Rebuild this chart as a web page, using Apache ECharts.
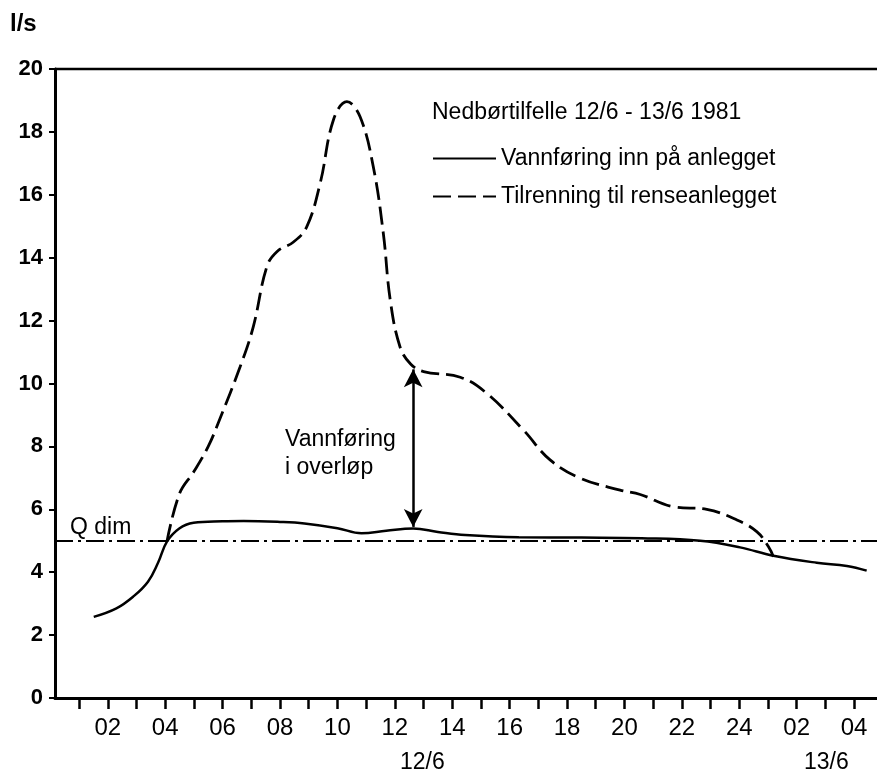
<!DOCTYPE html>
<html>
<head>
<meta charset="utf-8">
<script src="https://cdn.jsdelivr.net/npm/echarts@6/dist/echarts.min.js"></script>
<style>html,body{margin:0;padding:0;background:#fff}#c{width:877px;height:774px}</style>
</head>
<body>
<div id="c"></div>
<script>
// ---- data ----
const tickHours = [1,2,3,4,5,6,7,8,9,10,11,12,13,14,15,16,17,18,19,20,21,22,23,24,25,26,27,28];
const labelHours = [2,4,6,8,10,12,14,16,18,20,22,24,26,28];
const labelTexts = ['02','04','06','08','10','12','14','16','18','20','22','24','02','04'];
const yTicks = [0,2,4,6,8,10,12,14,16,18,20];

const inflowHours  = [1.51, 2.3, 2.88, 3.4, 3.75, 4.06, 4.49, 4.99, 6.0, 6.73, 8.0, 8.85, 10.0, 10.84, 11.7, 12.64, 13.5, 14.45, 16.32, 18.5, 20.6, 22.64, 24.03, 25.19, 26.7, 27.75, 28.44];
const inflowValues = [2.58, 2.85, 3.22, 3.7, 4.3, 4.97, 5.39, 5.57, 5.62, 5.63, 5.6, 5.55, 5.4, 5.24, 5.32, 5.39, 5.28, 5.18, 5.11, 5.1, 5.08, 5.0, 4.79, 4.52, 4.3, 4.2, 4.05];

const runoffHours  = [4.06, 4.5, 5.0, 5.5, 5.91, 6.61, 7.07, 7.54, 7.9, 8.47, 8.93, 9.4, 9.86, 10.33, 10.79, 11.25, 11.6, 11.84, 12.18, 12.55, 13.0, 14.28, 15.2, 16.48, 17.41, 18.46, 19.85, 20.55, 21.71, 22.87, 23.92, 24.61, 25.02, 25.19];
const runoffValues = [4.97, 6.5, 7.2, 8.0, 8.89, 10.53, 11.81, 13.71, 14.2, 14.5, 14.98, 16.37, 18.38, 18.96, 18.48, 16.89, 14.77, 12.66, 11.17, 10.62, 10.38, 10.2, 9.69, 8.52, 7.57, 6.99, 6.61, 6.47, 6.08, 6.0, 5.66, 5.29, 4.81, 4.49];

const qDim = 5;
const overflowArrow = {hour: 12.64, low: 5.44, high: 10.45};

const titleText = 'Nedbørtilfelle 12/6 - 13/6 1981';
const seriesNames = ['Vannføring inn på anlegget', 'Tilrenning til renseanlegget'];

// ---- chart ----
const FONT = 'Liberation Sans';
const chart = echarts.init(document.getElementById('c'), null, {renderer: 'canvas'});
const zip = (a, b) => a.map((v, i) => [v, b[i]]);

chart.setOption({
  animation: false,
  backgroundColor: '#fff',
  textStyle: {fontFamily: FONT, color: '#000'},
  grid: {left: 55, right: 0, top: 69, bottom: 76, containLabel: false},
  xAxis: {
    type: 'value', min: 0.16, max: 28.8,
    axisLine: {show: true, onZero: false, lineStyle: {color: '#000', width: 3}},
    axisTick: {show: true, inside: false, length: 11, customValues: tickHours, lineStyle: {color: '#000', width: 2.5}},
    axisLabel: {
      show: true, margin: 18, fontSize: 24, color: '#000', fontFamily: FONT,
      customValues: labelHours,
      formatter: v => labelTexts[labelHours.indexOf(Math.round(v))] || ''
    },
    splitLine: {show: false}
  },
  yAxis: {
    type: 'value', min: 0, max: 20, interval: 2,
    axisLine: {show: true, lineStyle: {color: '#000', width: 3}},
    axisTick: {show: true, inside: false, length: 6, lineStyle: {color: '#000', width: 2}},
    axisLabel: {show: true, margin: 12, fontSize: 22, fontWeight: 'bold', color: '#000', fontFamily: FONT,
      customValues: yTicks},
    splitLine: {show: false}
  },
  legend: {
    show: true, orient: 'vertical', left: 432, top: 147, padding: 0,
    itemWidth: 63, itemHeight: 20, itemGap: 15,
    itemStyle: {opacity: 0},
    textStyle: {fontSize: 23, color: '#000', fontFamily: FONT},
    data: seriesNames
  },
  series: [
    {
      name: seriesNames[0], type: 'line', data: zip(inflowHours, inflowValues),
      smooth: 0.4, symbol: 'none', lineStyle: {color: '#000', width: 2.5, type: 'solid'},
      itemStyle: {color: '#000'},
      markLine: {
        silent: true, symbol: ['none', 'none'], label: {show: false},
        lineStyle: {color: '#000', width: 2, type: [18, 5, 3, 5]},
        data: [{yAxis: qDim}]
      }
    },
    {
      name: seriesNames[1], type: 'line', data: zip(runoffHours, runoffValues),
      smooth: 0.4, symbol: 'none', lineStyle: {color: '#000', width: 2.8, type: [18, 7]},
      itemStyle: {color: '#000'},
      markLine: {
        silent: true, symbol: ['arrow', 'arrow'], symbolSize: [14, 18], label: {show: false},
        lineStyle: {color: '#000', width: 2.5, type: 'solid'},
        data: [[{coord: [overflowArrow.hour, overflowArrow.low]}, {coord: [overflowArrow.hour, overflowArrow.high]}]]
      }
    }
  ],
  graphic: [
    {type: 'line', shape: {x1: 55, y1: 69, x2: 877, y2: 69}, style: {stroke: '#000', lineWidth: 2.5}},
    {type: 'text', left: 10, top: 12, style: {text: 'l/s', fontSize: 24, fontWeight: 'bold', fill: '#000', fontFamily: FONT}},
    {type: 'text', left: 432, top: 101, style: {text: titleText, fontSize: 23, fill: '#000', fontFamily: FONT}},
    {type: 'text', left: 70, top: 516, style: {text: 'Q dim', fontSize: 23, fill: '#000', fontFamily: FONT}},
    {type: 'text', left: 285, top: 426, style: {text: 'Vannføring\ni overløp', fontSize: 23, lineHeight: 28, fill: '#000', fontFamily: FONT}},
    {type: 'text', left: 400, top: 751, style: {text: '12/6', fontSize: 23, fill: '#000', fontFamily: FONT}},
    {type: 'text', left: 804, top: 751, style: {text: '13/6', fontSize: 23, fill: '#000', fontFamily: FONT}}
  ]
});
</script>
</body>
</html>
